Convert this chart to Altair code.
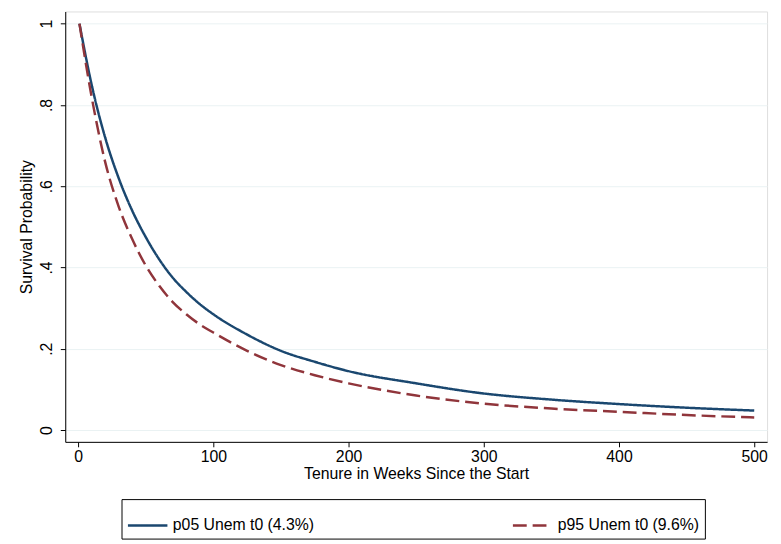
import altair as alt
import pandas as pd

weeks = [1,10,20,30,40,50,60,70,80,90,100,125,150,175,200,250,300,350,400,450,500]
p05 = [1.0,0.85,0.72,0.62,0.54,0.475,0.42,0.375,0.34,0.31,0.285,0.235,0.195,0.168,0.145,0.115,0.09,0.075,0.064,0.055,0.048]
p95 = [1.0,0.82,0.66,0.55,0.47,0.405,0.355,0.315,0.285,0.26,0.24,0.195,0.16,0.135,0.115,0.085,0.065,0.053,0.045,0.037,0.031]
names = ["p05 Unem t0 (4.3%)", "p95 Unem t0 (9.6%)"]

rows = []
for w, a, b in zip(weeks, p05, p95):
    rows.append({"x": w, "y": a, "s": names[0]})
    rows.append({"x": w, "y": b, "s": names[1]})
df = pd.DataFrame(rows)

chart = alt.Chart(df).mark_line(strokeWidth=2.5, interpolate="monotone", clip=True).encode(
    x=alt.X("x:Q", title="Tenure in Weeks Since the Start",
            scale=alt.Scale(domain=[-9.5, 509.5], nice=False, zero=False),
            axis=alt.Axis(values=[0,100,200,300,400,500], grid=False, labelFontSize=16,
                          titleFontSize=16, titleFontWeight="normal", labelColor="black",
                          titleColor="black", domainColor="black", tickColor="black",
                          titlePadding=1, labelPadding=2)),
    y=alt.Y("y:Q", title="Survival Probability",
            scale=alt.Scale(domain=[-0.029, 1.03], nice=False, zero=False),
            axis=alt.Axis(values=[0,0.2,0.4,0.6,0.8,1], grid=True, gridColor="#eaf2f3", gridWidth=1,
                          labelFontSize=16,
                          labelAngle=-90, labelAlign="center", labelBaseline="bottom",
                          labelExpr="datum.value == 0 ? '0' : datum.value == 1 ? '1' : replace(format(datum.value, '.1f'), '0.', '.')",
                          titleFontSize=16, titleFontWeight="normal", labelColor="black",
                          titleColor="black", domainColor="black", tickColor="black",
                          titlePadding=4, labelPadding=6)),
    color=alt.Color("s:N", scale=alt.Scale(domain=names, range=["#1a476f", "#90353b"]),
                    legend=alt.Legend(title=None, orient="none", legendX=57, legendY=494,
                                      direction="horizontal",
                                      symbolType="stroke", symbolSize=1600, symbolStrokeWidth=2.5,
                                      labelFontSize=16, columnPadding=195, labelColor="black",
                                      strokeColor="black", padding=5, labelLimit=300)),
    strokeDash=alt.StrokeDash("s:N", scale=alt.Scale(domain=names, range=[[1,0],[14,6]]), legend=None),
).properties(width=711, height=436, padding={"left": 11, "top": 0, "right": 5, "bottom": 5}
).configure_view(stroke=None).configure(font="Liberation Sans")

chart.save("out.html", embed_options={"renderer": "svg", "actions": False})
